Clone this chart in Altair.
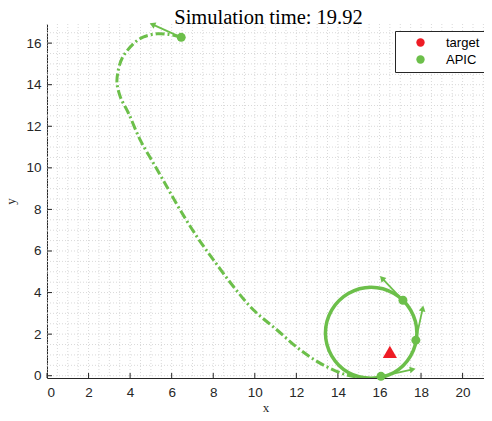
import altair as alt
import pandas as pd
import numpy as np

# ---- data ----
TITLE = "Simulation time: 19.92"

# approach trajectory (dash-dot)
path_x = [6.46, 5.85, 5.29, 4.65, 4.17, 3.61, 3.40, 3.37, 3.53, 3.93, 4.49, 5.13, 5.77,
          6.41, 7.22, 8.02, 8.98, 9.94, 11.07, 12.19, 13.31, 14.44, 15.40]
path_y = [16.28, 16.42, 16.45, 16.30, 15.98, 15.26, 14.54, 14.06, 13.41, 12.61, 11.33, 10.21, 9.09,
          7.97, 6.68, 5.56, 4.28, 3.16, 2.20, 1.24, 0.51, 0.03, -0.12]

# loiter circle (closed)
circ_x = [17.80, 17.50, 16.70, 15.60, 14.50, 13.70, 13.40, 13.70, 14.50, 15.60, 16.70, 17.50]
circ_y = [2.05, 3.15, 3.95, 4.25, 3.95, 3.15, 2.05, 0.95, 0.15, -0.12, 0.15, 0.95]

# agent positions and heading-arrow tips
agent_x = [6.46, 17.13, 17.75, 16.07]
agent_y = [16.28, 3.63, 1.71, -0.03]
tip_x = [5.07, 16.12, 18.08, 17.60]
tip_y = [16.90, 4.69, 3.24, 0.30]

# target
target_x = [16.5]
target_y = [1.15]

x_ticks = list(range(0, 21, 2))
y_ticks = list(range(0, 17, 2))

GREEN = "#6cbf4a"
RED = "#ee1c25"
W, H = 437, 354
XMAX, YMIN, YMAX = 21.03, -0.11, 16.92

xs = alt.Scale(domain=[0, XMAX], nice=False, zero=False)
ys = alt.Scale(domain=[YMIN, YMAX], nice=False, zero=False)

path_df = pd.DataFrame({"x": path_x, "y": path_y, "o": range(len(path_x))})
circ_df = pd.DataFrame({"x": circ_x, "y": circ_y, "o": range(len(circ_x))})
agents = pd.DataFrame({"x": agent_x, "y": agent_y, "tx": tip_x, "ty": tip_y,
                       "series": ["APIC"] * len(agent_x)})
agents["ang"] = np.degrees(np.arctan2(agents.tx - agents.x, agents.ty - agents.y)) % 360
target_df = pd.DataFrame({"x": target_x, "y": target_y, "series": ["target"]})
title_df = pd.DataFrame({"t": [TITLE]})

minor_vx = pd.DataFrame({"v": np.arange(0, XMAX, 0.5)})
minor_hy = pd.DataFrame({"v": np.arange(0, YMAX, 0.5)})
xt_df = pd.DataFrame({"v": x_ticks})
yt_df = pd.DataFrame({"v": y_ticks})

axis_common = dict(domainColor="#262626", domainWidth=1, ticks=False, grid=False,
                   labelFont="Liberation Sans", labelFontSize=13.5, labelColor="#262626",
                   titleFont="Liberation Serif", titleFontSize=13, titleFontWeight="normal",
                   titleColor="#262626")

grid_v = alt.Chart(minor_vx).mark_rule(color="#d9d9d9", strokeDash=[1, 2], strokeWidth=1).encode(
    x=alt.X("v:Q", scale=xs, axis=alt.Axis(values=x_ticks, title="x", labelPadding=7,
                                           titlePadding=3, **axis_common)),
    y=alt.value(0), y2=alt.value(H))
grid_h = alt.Chart(minor_hy).mark_rule(color="#d9d9d9", strokeDash=[1, 2], strokeWidth=1).encode(
    y=alt.Y("v:Q", scale=ys, axis=alt.Axis(values=y_ticks, title="y", labelPadding=6,
                                           titlePadding=8, **axis_common)),
    x=alt.value(0), x2=alt.value(W))

xticks = alt.Chart(xt_df).mark_rule(color="#262626", strokeWidth=1).encode(
    x=alt.X("v:Q", scale=xs), y=alt.value(H), y2=alt.value(H - 5))
yticks = alt.Chart(yt_df).mark_rule(color="#262626", strokeWidth=1).encode(
    y=alt.Y("v:Q", scale=ys), x=alt.value(0), x2=alt.value(5))

path = alt.Chart(path_df).mark_line(color=GREEN, strokeWidth=3, strokeDash=[9, 3, 2, 3],
                                    interpolate="catmull-rom", clip=True).encode(
    x=alt.X("x:Q", scale=xs), y=alt.Y("y:Q", scale=ys), order="o:Q")
circle = alt.Chart(circ_df).mark_line(color=GREEN, strokeWidth=3.5,
                                      interpolate="cardinal-closed", clip=True).encode(
    x=alt.X("x:Q", scale=xs), y=alt.Y("y:Q", scale=ys), order="o:Q")

arrows = alt.Chart(agents).mark_rule(color=GREEN, strokeWidth=1.8).encode(
    x=alt.X("x:Q", scale=xs), y=alt.Y("y:Q", scale=ys), x2="tx:Q", y2="ty:Q")
heads = alt.Chart(agents).mark_point(shape="triangle-up", filled=True, opacity=1,
                                     color=GREEN, size=45).encode(
    x=alt.X("tx:Q", scale=xs), y=alt.Y("ty:Q", scale=ys), angle=alt.Angle("ang:Q", scale=None))

color_scale = alt.Scale(domain=["target", "APIC"], range=[RED, GREEN])
legend = alt.Legend(title=None, orient="none", legendX=348, legendY=7, symbolType="circle",
                    symbolSize=70, symbolOpacity=1, symbolStrokeWidth=0,
                    labelFont="Liberation Sans", labelFontSize=13, labelColor="#000000",
                    strokeColor="#262626", fillColor="white", padding=5, symbolOffset=14,
                    labelOffset=19, rowPadding=3, labelLimit=200)

dots = alt.Chart(agents).mark_point(shape="circle", filled=True, opacity=1, size=80).encode(
    x=alt.X("x:Q", scale=xs), y=alt.Y("y:Q", scale=ys),
    color=alt.Color("series:N", scale=color_scale, legend=legend))
target = alt.Chart(target_df).mark_point(shape="triangle-up", filled=True, opacity=1, size=200).encode(
    x=alt.X("x:Q", scale=xs), y=alt.Y("y:Q", scale=ys),
    color=alt.Color("series:N", scale=color_scale, legend=legend))

title = alt.Chart(title_df).mark_text(font="Liberation Serif", fontSize=20.5, color="#000000",
                                      align="center", baseline="alphabetic").encode(
    text="t:N", x=alt.value(W / 2 + 3), y=alt.value(0))

chart = alt.layer(grid_v, grid_h, xticks, yticks, path, circle, arrows, heads, target, dots,
                  title).properties(
    width=W, height=H,
    autosize=alt.AutoSizeParams(type="none"),
    padding={"left": 39, "top": 16, "right": 0, "bottom": 35},
).configure_view(stroke=None).configure_legend(cornerRadius=0, strokeWidth=1)

chart.save("out.html", embed_options={"renderer": "svg", "actions": False})
